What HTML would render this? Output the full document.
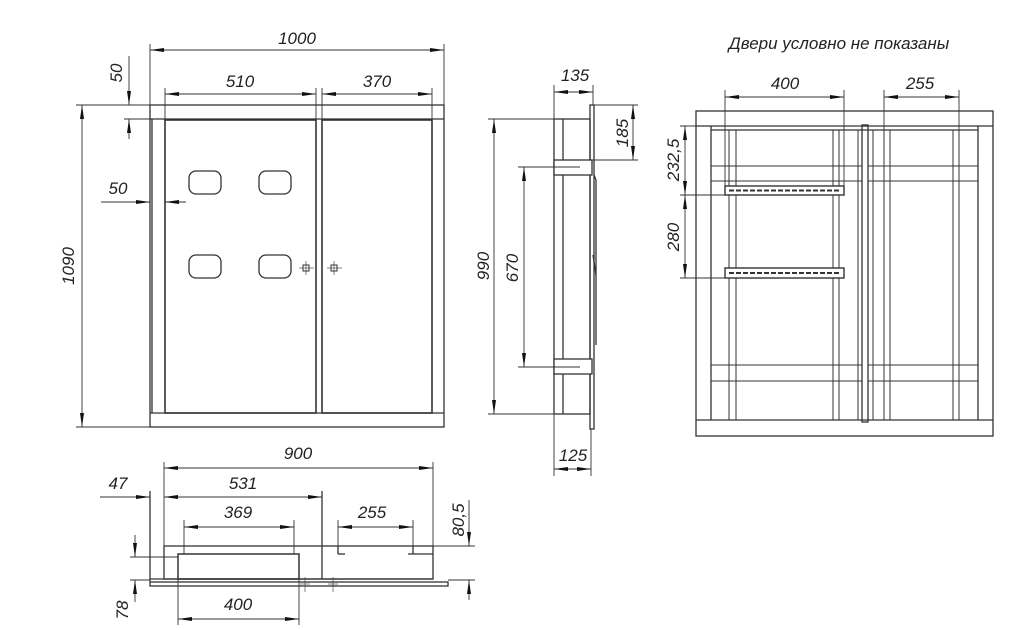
<!DOCTYPE html>
<html><head><meta charset="utf-8"><style>
html,body{margin:0;padding:0;background:#fff}
svg{display:block}
text{font-family:"Liberation Sans","DejaVu Sans",sans-serif;font-style:italic;fill:#222;font-size:17px}
</style></head><body>
<svg width="1024" height="630" viewBox="0 0 1024 630" xmlns="http://www.w3.org/2000/svg">
<defs>
<marker id="a" viewBox="0 0 14 7" refX="14" refY="3.5" markerWidth="14" markerHeight="7" markerUnits="userSpaceOnUse" orient="auto-start-reverse"><path d="M0,1.5 L14,3.5 L0,5.5z" fill="#111"/></marker>
</defs>
<g stroke="#333" stroke-width="1.3" fill="none">
<!-- FRONT VIEW -->
<rect x="150" y="105" width="294" height="322"/>
<line x1="150" y1="119" x2="444" y2="119"/>
<line x1="150" y1="413" x2="444" y2="413"/>
<line x1="152" y1="119" x2="152" y2="413"/>
<rect x="165" y="120" width="151" height="293" stroke-width="1.6"/>
<rect x="322" y="120" width="110" height="293" stroke-width="1.6"/>
<rect x="189" y="171" width="32" height="23" rx="7"/>
<rect x="259" y="171" width="32" height="23" rx="7"/>
<rect x="189" y="255" width="32" height="23" rx="7"/>
<rect x="259" y="255" width="32" height="23" rx="7"/>
<rect x="303" y="265" width="6" height="6" stroke-width="1"/>
<rect x="331" y="265" width="6" height="6" stroke-width="1"/>
<g stroke-width="0.6"><line x1="299" y1="268" x2="314" y2="268"/><line x1="306" y1="261" x2="306" y2="275"/><line x1="327" y1="268" x2="342" y2="268"/><line x1="334" y1="261" x2="334" y2="275"/></g>
<g stroke-width="0.9">
<line x1="150" y1="44" x2="150" y2="105"/><line x1="444" y1="44" x2="444" y2="105"/>
<line x1="150" y1="50" x2="444" y2="50" marker-start="url(#a)" marker-end="url(#a)"/>
<line x1="165" y1="88" x2="165" y2="120"/><line x1="316" y1="88" x2="316" y2="120"/><line x1="322" y1="88" x2="322" y2="120"/><line x1="432" y1="88" x2="432" y2="120"/>
<line x1="165" y1="94" x2="316" y2="94" marker-start="url(#a)" marker-end="url(#a)"/>
<line x1="322" y1="94" x2="432" y2="94" marker-start="url(#a)" marker-end="url(#a)"/>
<line x1="124" y1="119" x2="150" y2="119"/>
<line x1="129" y1="56" x2="129" y2="105" marker-end="url(#a)"/>
<line x1="129" y1="139" x2="129" y2="119" marker-end="url(#a)"/>
<line x1="101" y1="202" x2="150" y2="202" marker-end="url(#a)"/>
<line x1="186" y1="202" x2="165" y2="202" marker-end="url(#a)"/>
<line x1="76" y1="105" x2="150" y2="105"/><line x1="76" y1="427" x2="150" y2="427"/>
<line x1="82" y1="105" x2="82" y2="427" marker-start="url(#a)" marker-end="url(#a)"/>
</g>
<!-- SIDE VIEW -->
<rect x="554" y="119" width="36" height="295"/>
<line x1="563" y1="119" x2="563" y2="414"/>
<rect x="590" y="105" width="4" height="324"/>
<rect x="554" y="160" width="38" height="15" fill="#fff"/>
<rect x="554" y="359" width="38" height="15" fill="#fff"/>
<line x1="594" y1="175" x2="596" y2="180"/><line x1="596" y1="180" x2="596" y2="345"/>
<line x1="593" y1="255" x2="596" y2="275"/>
<g stroke-width="0.9">
<line x1="554" y1="85" x2="554" y2="119"/><line x1="593" y1="85" x2="593" y2="105"/>
<line x1="554" y1="92" x2="593" y2="92" marker-start="url(#a)" marker-end="url(#a)"/>
<line x1="594" y1="105" x2="638" y2="105"/><line x1="592" y1="160" x2="638" y2="160"/>
<line x1="633" y1="105" x2="633" y2="160" marker-start="url(#a)" marker-end="url(#a)"/>
<line x1="488" y1="119" x2="554" y2="119"/><line x1="488" y1="414" x2="554" y2="414"/>
<line x1="494" y1="119" x2="494" y2="414" marker-start="url(#a)" marker-end="url(#a)"/>
<line x1="518" y1="167" x2="580" y2="167"/><line x1="518" y1="367" x2="580" y2="367"/>
<line x1="524" y1="167" x2="524" y2="367" marker-start="url(#a)" marker-end="url(#a)"/>
<line x1="554" y1="414" x2="554" y2="476"/><line x1="591" y1="429" x2="591" y2="476"/>
<line x1="554" y1="469" x2="591" y2="469" marker-start="url(#a)" marker-end="url(#a)"/>
</g>
<!-- RIGHT VIEW -->
<rect x="696" y="111" width="297" height="325"/>
<line x1="696" y1="126" x2="993" y2="126"/>
<line x1="696" y1="420" x2="993" y2="420"/>
<line x1="711" y1="126" x2="711" y2="420"/>
<line x1="978" y1="126" x2="978" y2="420"/>
<line x1="711" y1="130" x2="978" y2="130"/>
<rect x="862" y="125" width="6" height="297"/>
<g stroke-width="1">
<line x1="711" y1="166" x2="862" y2="166"/><line x1="711" y1="181" x2="862" y2="181"/>
<line x1="868" y1="166" x2="978" y2="166"/><line x1="868" y1="181" x2="978" y2="181"/>
<line x1="711" y1="365" x2="862" y2="365"/><line x1="711" y1="381" x2="862" y2="381"/>
<line x1="868" y1="365" x2="978" y2="365"/><line x1="868" y1="381" x2="978" y2="381"/>
<line x1="729" y1="130" x2="729" y2="420"/><line x1="736" y1="130" x2="736" y2="420"/>
<line x1="833" y1="130" x2="833" y2="420"/><line x1="839" y1="130" x2="839" y2="420"/>
<line x1="858" y1="130" x2="858" y2="420"/><line x1="873" y1="130" x2="873" y2="420"/>
<line x1="884" y1="130" x2="884" y2="420"/><line x1="890" y1="130" x2="890" y2="420"/>
<line x1="953" y1="130" x2="953" y2="420"/><line x1="959" y1="130" x2="959" y2="420"/>
</g>
<rect x="725" y="186" width="119" height="9" fill="#fff" stroke-width="1.4"/>
<rect x="725" y="268" width="119" height="10" fill="#fff" stroke-width="1.4"/>
<line x1="729" y1="190.5" x2="840" y2="190.5" stroke-dasharray="5,2" stroke-width="2"/>
<line x1="729" y1="273" x2="840" y2="273" stroke-dasharray="5,2" stroke-width="2"/>
<g stroke-width="0.9">
<line x1="725" y1="90" x2="725" y2="186"/><line x1="844" y1="90" x2="844" y2="186"/>
<line x1="725" y1="97" x2="844" y2="97" marker-start="url(#a)" marker-end="url(#a)"/>
<line x1="884" y1="90" x2="884" y2="130"/><line x1="959" y1="90" x2="959" y2="130"/>
<line x1="884" y1="97" x2="959" y2="97" marker-start="url(#a)" marker-end="url(#a)"/>
<line x1="680" y1="126" x2="711" y2="126"/><line x1="680" y1="195" x2="725" y2="195"/><line x1="680" y1="278" x2="725" y2="278"/>
<line x1="685" y1="126" x2="685" y2="195" marker-start="url(#a)" marker-end="url(#a)"/>
<line x1="685" y1="195" x2="685" y2="278" marker-start="url(#a)" marker-end="url(#a)"/>
</g>
<!-- BOTTOM VIEW -->
<rect x="164" y="546" width="269" height="33"/>
<rect x="150" y="582" width="298" height="4"/>
<line x1="150" y1="491" x2="150" y2="582"/>
<line x1="150" y1="579" x2="433" y2="579"/>
<rect x="178" y="554" width="121" height="25" stroke-width="1.5"/>
<line x1="322" y1="491" x2="322" y2="579"/>
<line x1="338" y1="546" x2="338" y2="554"/><line x1="338" y1="554" x2="345" y2="554"/>
<line x1="413" y1="546" x2="413" y2="554"/><line x1="408" y1="554" x2="433" y2="554"/>
<g stroke-width="0.6"><line x1="305" y1="577" x2="305" y2="592"/><line x1="333" y1="577" x2="333" y2="592"/><line x1="300" y1="584" x2="310" y2="584"/><line x1="328" y1="584" x2="338" y2="584"/></g>
<g stroke-width="0.9">
<line x1="164" y1="462" x2="164" y2="546"/><line x1="433" y1="462" x2="433" y2="546"/>
<line x1="164" y1="468" x2="433" y2="468" marker-start="url(#a)" marker-end="url(#a)"/>
<line x1="164" y1="497" x2="322" y2="497" marker-start="url(#a)" marker-end="url(#a)"/>
<line x1="100" y1="497" x2="150" y2="497" marker-end="url(#a)"/>
<line x1="184" y1="520" x2="184" y2="554"/><line x1="294" y1="520" x2="294" y2="554"/>
<line x1="184" y1="527" x2="294" y2="527" marker-start="url(#a)" marker-end="url(#a)"/>
<line x1="338" y1="520" x2="338" y2="546"/><line x1="413" y1="520" x2="413" y2="546"/>
<line x1="338" y1="527" x2="413" y2="527" marker-start="url(#a)" marker-end="url(#a)"/>
<line x1="433" y1="546" x2="475" y2="546"/><line x1="448" y1="580" x2="475" y2="580"/>
<line x1="469" y1="500" x2="469" y2="546" marker-end="url(#a)"/>
<line x1="469" y1="600" x2="469" y2="580" marker-end="url(#a)"/>
<line x1="130" y1="557" x2="178" y2="557"/><line x1="130" y1="580" x2="150" y2="580"/>
<line x1="135" y1="535" x2="135" y2="557" marker-end="url(#a)"/>
<line x1="135" y1="602" x2="135" y2="580" marker-end="url(#a)"/>
<line x1="178" y1="579" x2="178" y2="625"/><line x1="299" y1="579" x2="299" y2="625"/>
<line x1="178" y1="619" x2="299" y2="619" marker-start="url(#a)" marker-end="url(#a)"/>
</g>
</g>
<g text-anchor="middle">
<text x="297" y="44">1000</text>
<text x="240" y="87">510</text>
<text x="377" y="87">370</text>
<text transform="translate(122,73) rotate(-90)">50</text>
<text x="118" y="194">50</text>
<text transform="translate(74,266) rotate(-90)">1090</text>
<text x="575" y="81">135</text>
<text transform="translate(628,133) rotate(-90)">185</text>
<text transform="translate(489,266) rotate(-90)">990</text>
<text transform="translate(518,268) rotate(-90)">670</text>
<text x="573" y="461">125</text>
<text x="785" y="89">400</text>
<text x="920" y="89">255</text>
<text transform="translate(679,160) rotate(-90)">232,5</text>
<text transform="translate(679,237) rotate(-90)">280</text>
<text x="839" y="49" font-size="14">Двери условно не показаны</text>
<text x="298" y="459">900</text>
<text x="243" y="489">531</text>
<text x="118" y="489">47</text>
<text x="238" y="518">369</text>
<text x="372" y="518">255</text>
<text transform="translate(464,520) rotate(-90)">80,5</text>
<text transform="translate(128,610) rotate(-90)">78</text>
<text x="238" y="610">400</text>
</g>
</svg>
</body></html>
